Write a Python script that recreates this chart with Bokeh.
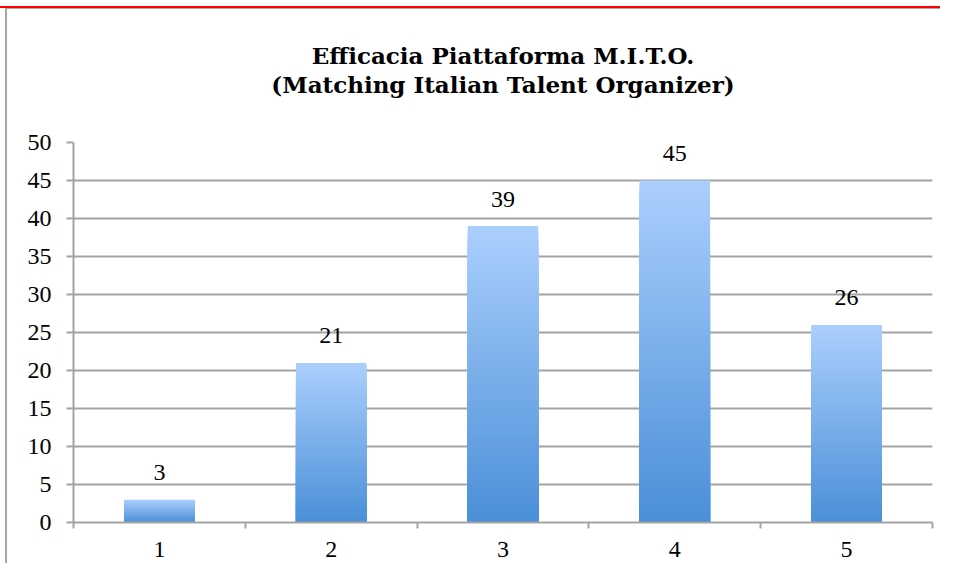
from bokeh.plotting import figure
from bokeh.models import FixedTicker, Range1d, Title
from bokeh.core.properties import value
from bokeh.embed import file_html
from bokeh.resources import INLINE

categories = ["1", "2", "3", "4", "5"]
values = [3, 21, 39, 45, 26]
y_ticks = [0, 5, 10, 15, 20, 25, 30, 35, 40, 45, 50]
title_lines = ["Efficacia Piattaforma M.I.T.O.", "(Matching Italian Talent Organizer)"]

GRID = "#a3a3a3"
TOP_C = (0xab, 0xcf, 0xfd)
BOT_C = (0x4a, 0x8f, 0xd8)
FONT = "Liberation Serif"
TFONT = "DejaVu Serif"

p = figure(width=940, height=563, output_backend="svg", toolbar_location=None,
           x_range=Range1d(0.5, len(categories) + 0.5), y_range=Range1d(0, 50),
           min_border_left=73, min_border_right=8, min_border_top=142, min_border_bottom=41)
p.outline_line_color = None
p.background_fill_color = "white"
p.border_fill_alpha = 0
p.styles = {
    "background-color": "white",
    "background-image": "linear-gradient(#ff0000, #ff0000), linear-gradient(#a6a6a6, #a6a6a6), linear-gradient(#a6a6a6, #a6a6a6)",
    "background-size": "100% 2px, 100% 1px, 2px 100%",
    "background-position": "0px 6px, 6px 8px, 5px 8px",
    "background-repeat": "no-repeat",
}

N = 80
bw = 0.205
L, R, B, T, C = [], [], [], [], []
for k in range(N - 1, -1, -1):
    t = (k + 0.5) / N
    col = "#%02x%02x%02x" % tuple(int(round(BOT_C[j] + (TOP_C[j] - BOT_C[j]) * t)) for j in range(3))
    for i, v in enumerate(values):
        xc = i + 1
        L.append(xc - bw)
        R.append(xc + bw)
        B.append(0)
        T.append(v * (k + 1) / N)
        C.append(col)
p.quad(left=L, right=R, bottom=B, top=T, fill_color=C, line_color=None)

xs = [i + 1 for i in range(len(categories))]
p.text(x=xs, y=values, text=[str(v) for v in values], text_align="center",
       text_baseline="alphabetic", y_offset=-27, text_font=value(FONT),
       text_font_size="24px", text_color="black")

p.xaxis.ticker = FixedTicker(ticks=xs, minor_ticks=[x - 0.5 for x in xs] + [xs[-1] + 0.5])
p.xaxis.major_label_overrides = {x: c for x, c in zip(xs, categories)}
p.xaxis.major_tick_out = 0
p.xaxis.major_tick_in = 0
p.xaxis.minor_tick_out = 6
p.xaxis.minor_tick_in = 0
p.xaxis.minor_tick_line_color = GRID
p.xaxis.minor_tick_line_width = 2
p.xaxis.major_label_standoff = 13
p.yaxis.ticker = FixedTicker(ticks=y_ticks)
p.yaxis.major_tick_out = 7
p.yaxis.major_tick_in = 0
p.yaxis.minor_tick_line_color = None
p.yaxis.major_label_standoff = 15
for ax in (p.xaxis, p.yaxis):
    ax.axis_line_color = GRID
    ax.axis_line_width = 2
    ax.major_tick_line_color = GRID
    ax.major_tick_line_width = 2
    ax.major_label_text_font = FONT
    ax.major_label_text_font_size = "24px"
    ax.major_label_text_color = "black"
p.xgrid.grid_line_color = None
p.ygrid.grid_line_color = GRID
p.ygrid.grid_line_width = 2
p.ygrid.ticker = FixedTicker(ticks=y_ticks)

p.title.visible = False
spacer = Title(text=" ", align="center", text_font=TFONT, text_font_size="23px",
               text_font_style="bold", text_color="white", standoff=16)
t2 = Title(text=title_lines[1], align="center", text_font=TFONT, text_font_size="23px",
           text_font_style="bold", text_color="black", standoff=0)
t1 = Title(text=title_lines[0], align="center", text_font=TFONT, text_font_size="23px",
           text_font_style="bold", text_color="black", standoff=0)
p.add_layout(spacer, "above")
p.add_layout(t2, "above")
p.add_layout(t1, "above")

open("out.html", "w").write(file_html(p, INLINE))
